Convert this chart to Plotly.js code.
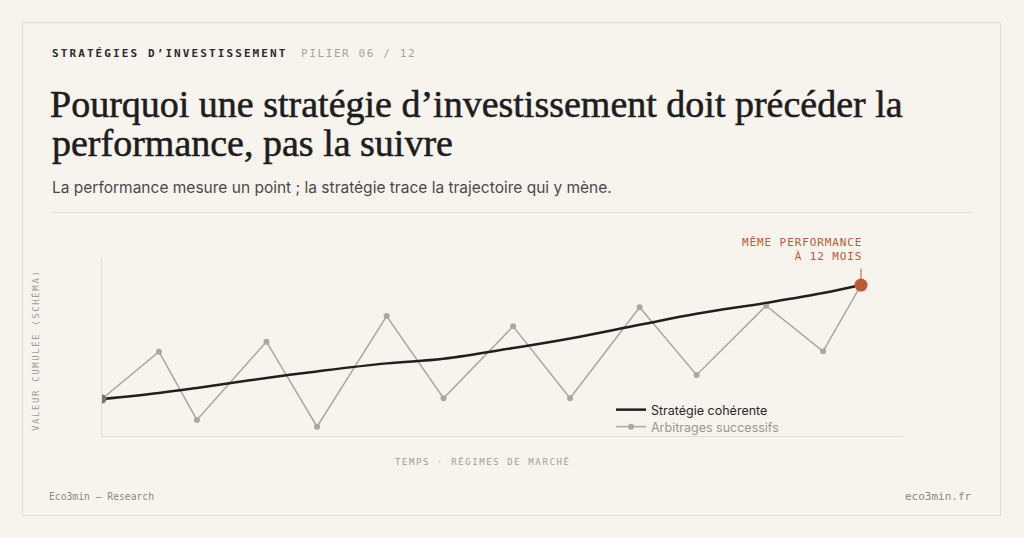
<!DOCTYPE html>
<html><head><meta charset="utf-8">
<script src="https://cdn.plot.ly/plotly-3.0.1.min.js"></script>
<style>
html,body{margin:0;padding:0;background:#f7f4ee;}
#chart{width:1024px;height:538px;}
#chart .gtitle, #chart g.annotation[data-index="2"] text{stroke:#1d1d1d;stroke-width:0.55px;}
</style>
</head><body><div id="chart"></div>
<script>
// Data (schematic values)
const months = [0, 0.9, 1.5, 2.6, 3.4, 4.5, 5.4, 6.5, 7.4, 8.5, 9.4, 10.5, 11.4, 12];
const strategie = [20.8, 24.2, 27.0, 32.6, 36.3, 40.8, 43.4, 49.4, 54.8, 62.5, 68.7, 74.8, 80.3, 84.8];
const arbitrages = [20.8, 47.4, 9.0, 53.0, 5.2, 67.4, 21.2, 61.6, 21.2, 72.3, 34.3, 73.2, 47.6, 84.8];
const seriesNames = ['Stratégie cohérente', 'Arbitrages successifs'];
const kicker = 'STRATÉGIES D’INVESTISSEMENT';
const pilier = 'PILIER 06 / 12';
const titleLines = ['Pourquoi une stratégie d’investissement doit précéder la', 'performance, pas la suivre'];
const subtitle = 'La performance mesure un point ; la stratégie trace la trajectoire qui y mène.';
const calloutText = 'MÊME PERFORMANCE<br>À 12 MOIS';
const xTitle = 'TEMPS · RÉGIMES DE MARCHÉ';
const yTitle = 'VALEUR CUMULÉE (SCHÉMA)';
const footLeft = 'Eco3min — Research';
const footRight = 'eco3min.fr';

// layout geometry helpers (plot area: x 102..903, y 258..436)
const L = 102, R = 903, T = 258, B = 436;
const W = R - L, H = B - T;
const px = v => (v - L) / W;
const py = v => (B - v) / H;

const MONO = '"DejaVu Sans Mono", "Liberation Mono", monospace';
const SERIF = '"Liberation Serif", serif';
const SANS = 'Inter, "Noto Sans", sans-serif';
const ORANGE = '#bd5a37';
const GREY = '#aca79e';
const LINE = '#e1dccf';

const last = months.length - 1;
const traces = [
  {x: months, y: arbitrages, name: '<span style="color:#9c978d">' + seriesNames[1] + '</span>', mode: 'lines+markers',
   line: {color: GREY, width: 1.5}, marker: {color: GREY, size: 6}, legend: 'legend2', hoverinfo: 'skip'},
  {x: months, y: strategie, name: seriesNames[0], mode: 'lines', line: {color: '#1f1f1f', width: 2.5, shape: 'spline', smoothing: 1.1},
   legend: 'legend', hoverinfo: 'skip'},
  {x: [months[0]], y: [strategie[0]], mode: 'markers', marker: {color: '#7a766f', size: 9}, showlegend: false, hoverinfo: 'skip'},
  {x: [months[last]], y: [strategie[last]], mode: 'markers', marker: {color: ORANGE, size: 13}, showlegend: false, hoverinfo: 'skip'}
];

const ls = (s, t) => '<span style="letter-spacing:' + s + 'px">' + t + '</span>';
const ann = (o) => Object.assign({xref: 'paper', yref: 'paper', showarrow: false, xanchor: 'left', yanchor: 'middle'}, o);
const legendStyle = (yc) => ({x: px(611), y: py(yc), xanchor: 'left', yanchor: 'middle', bgcolor: 'rgba(0,0,0,0)',
  font: {family: SANS, size: 12.5, color: '#2a2a2a'}, tracegroupgap: 0, borderwidth: 0});

const layout = {
  width: 1024, height: 538,
  margin: {l: L, r: 1024 - R, t: T, b: 538 - B, pad: 0},
  paper_bgcolor: '#f7f4ee', plot_bgcolor: 'rgba(0,0,0,0)',
  title: {text: titleLines[0], font: {family: SERIF, size: 38, color: '#1d1d1d'}, x: 50 / 1024, xanchor: 'left', xref: 'container', y: 1 - 104 / 538, yanchor: 'middle', yref: 'container'},
  showlegend: true,
  legend: legendStyle(410),
  legend2: legendStyle(427),
  xaxis: {range: [0, 12 * W / 759], showline: true, linecolor: LINE, linewidth: 1, showgrid: false, zeroline: false, showticklabels: false, ticks: '', fixedrange: true},
  yaxis: {range: [0, 100], showline: true, linecolor: LINE, linewidth: 1, showgrid: false, zeroline: false, showticklabels: false, ticks: '', fixedrange: true},
  shapes: [
    {type: 'rect', xref: 'paper', yref: 'paper', x0: px(22.5), x1: px(1000.5), y0: py(22.5), y1: py(515.5), line: {color: LINE, width: 1}, fillcolor: 'rgba(0,0,0,0)', layer: 'below'},
    {type: 'line', xref: 'paper', yref: 'paper', x0: px(52), x1: px(972), y0: py(212.5), y1: py(212.5), line: {color: LINE, width: 1}}
  ],
  annotations: [
    ann({x: px(50), y: py(53), text: '<b>' + ls(2.1, kicker) + '</b>', font: {family: MONO, size: 11, color: '#2b2b2b'}}),
    ann({x: px(299), y: py(53), text: ls(1.6, pilier), font: {family: MONO, size: 11, color: '#a8a39a'}}),
    ann({x: px(50), y: py(143), text: titleLines[1], font: {family: SERIF, size: 38, color: '#1d1d1d'}}),
    ann({x: px(50), y: py(187), text: subtitle, font: {family: SANS, size: 15.5, color: '#4a4a4a'}}),
    ann({xref: 'x', yref: 'y', x: months[last], y: strategie[last], xanchor: 'right', yanchor: 'bottom', yshift: 20, xshift: 3, align: 'right',
         text: ls(0.9, calloutText), font: {family: MONO, size: 11, color: ORANGE}}),
    {xref: 'x', yref: 'y', x: months[last], y: strategie[last], text: '', showarrow: true, arrowhead: 0, arrowwidth: 1, arrowcolor: ORANGE, ax: 0, ay: -18, standoff: 6},
    ann({x: px(482), y: py(461), xanchor: 'center', text: ls(1.6, xTitle), font: {family: MONO, size: 9, color: '#a19c93'}}),
    ann({x: px(35), y: py(351), xanchor: 'center', textangle: -90, text: ls(1.6, yTitle), font: {family: MONO, size: 9, color: '#a19c93'}}),
    ann({x: px(47), y: py(496), text: footLeft, font: {family: MONO, size: 9.7, color: '#8d887f'}}),
    ann({x: px(974), y: py(496), xanchor: 'right', text: footRight, font: {family: MONO, size: 11, color: '#8d887f'}})
  ]
};

Plotly.newPlot('chart', traces, layout, {staticPlot: true, displayModeBar: false});
</script>
</body></html>
